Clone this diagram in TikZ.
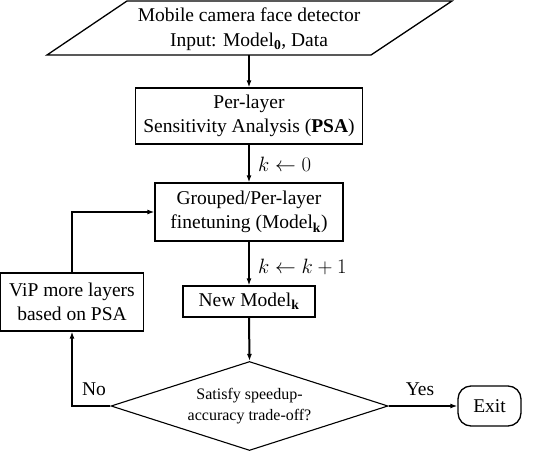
\documentclass[tikz,border=0pt]{standalone}
\usepackage{fontspec}
\setmainfont{Liberation Serif}
\usetikzlibrary{shapes.geometric,arrows.meta}
\begin{document}
\begin{tikzpicture}[x=1pt,y=-1pt,
  box/.style={draw,line width=1.3pt,inner sep=0pt,align=center,font=\fontsize{19.5}{24.5}\selectfont},
  arr/.style={line width=2pt,-{Latex[length=7pt,width=5pt]}},
  lbl/.style={inner sep=0pt,font=\fontsize{19.5}{24.5}\selectfont},
  dtext/.style={align=center,font=\fontsize{16}{21}\selectfont,inner sep=0pt}]
\useasboundingbox (0,0) rectangle (538,452);
% input parallelogram
\draw[line width=1.3pt] (127,1) -- (452,1) -- (371,55) -- (47,55) -- cycle;
\node[lbl,align=center] (inp) at (249,29) {Mobile camera face detector\\Input: Model\textsubscript{\textbf{0}}, Data};
\coordinate (inpb) at (249,55);
\node[box,minimum width=227pt,minimum height=56pt] (psa) at (249,116) {Per-layer\\Sensitivity Analysis (\textbf{PSA})};
\node[box,minimum width=188pt,minimum height=58pt] (grp) at (249,212) {Grouped/Per-layer\\finetuning (Model\textsubscript{\textbf{k}})};
\node[box,minimum width=132pt,minimum height=31pt] (nm) at (249,301.5) {New Model\textsubscript{\textbf{k}}};
\node[box,minimum width=143pt,minimum height=58pt] (vip) at (72,302) {ViP more layers\\based on PSA};
\node[draw,line width=1.1pt,diamond,minimum width=277pt,minimum height=89pt,inner sep=0pt] (dia) at (249.5,406) {};
\node[dtext] (dt) at (dia.center) {Satisfy speedup-\\accuracy trade-off?};
\node[box,rounded corners=13pt,minimum width=63pt,minimum height=40pt] (exit) at (489.5,406) {Exit};
% connectors
\draw[arr] (inpb) -- (psa.north);
\draw[arr] (psa.south) -- (grp.north);
\draw[arr] (grp.south) -- (nm.north);
\draw[arr] (nm.south) -- (dia.north);
\draw[arr] (dia.east) -- (exit.west);
\draw[arr] (dia.west) -| (vip.south);
\draw[arr] (vip.north) |- (grp.west);
% labels
\node[lbl,anchor=west] (l0) at (258,164) {$k \leftarrow 0$};
\node[lbl,anchor=west] (l1) at (258,267) {$k \leftarrow k+1$};
\node[lbl] (no) at (94,389) {No};
\node[lbl] (yes) at (420,389) {Yes};
\end{tikzpicture}
\end{document}
